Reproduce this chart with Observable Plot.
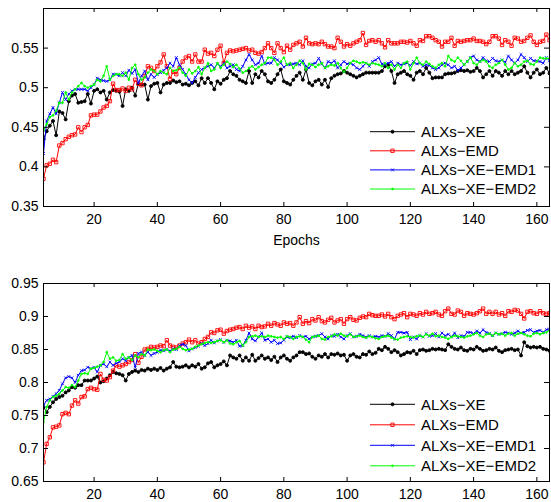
<!DOCTYPE html>
<html><head><meta charset="utf-8">
<script src="https://cdn.jsdelivr.net/npm/d3@7"></script>
<script src="https://cdn.jsdelivr.net/npm/@observablehq/plot@0.6"></script>
<style>
body{margin:0;background:#fff}
#chart svg{display:block}
</style>
</head><body><div id="chart"></div>
<script>
const startEpoch = 4;
const xDomain = [4, 164];
const xTicks = [20, 40, 60, 80, 100, 120, 140, 160];
const seriesNames = ["ALXs\u2212XE", "ALXs\u2212EMD", "ALXs\u2212XE\u2212EMD1", "ALXs\u2212XE\u2212EMD2"];
const seriesColors = ["#000000", "#ff0000", "#0000ff", "#00ff00"];
const topYDomain = [0.35, 0.6];
const topYTicks = [0.35, 0.4, 0.45, 0.5, 0.55];
const bottomYDomain = [0.65, 0.95];
const bottomYTicks = [0.65, 0.7, 0.75, 0.8, 0.85, 0.9, 0.95];

// top panel, epochs 4..164
const topXE = [
0.435,0.445,0.452,0.458,0.440,0.470,0.468,0.460,0.483,0.490,
0.492,0.481,0.482,0.483,0.492,0.480,0.496,0.498,0.494,0.496,
0.485,0.494,0.497,0.496,0.495,0.477,0.498,0.496,0.500,0.490,
0.505,0.504,0.504,0.485,0.502,0.505,0.506,0.494,0.504,0.506,
0.506,0.509,0.507,0.508,0.504,0.505,0.503,0.506,0.508,0.503,
0.512,0.506,0.512,0.506,0.498,0.508,0.505,0.510,0.512,0.521,
0.517,0.515,0.510,0.508,0.506,0.521,0.506,0.517,0.513,0.521,
0.517,0.508,0.506,0.510,0.517,0.523,0.508,0.506,0.504,0.510,
0.515,0.519,0.510,0.523,0.506,0.503,0.508,0.510,0.504,0.510,
0.501,0.512,0.515,0.517,0.518,0.521,0.519,0.517,0.515,0.513,
0.515,0.517,0.519,0.519,0.519,0.519,0.519,0.521,0.527,0.529,
0.521,0.506,0.517,0.519,0.521,0.517,0.515,0.510,0.519,0.521,
0.517,0.525,0.519,0.512,0.513,0.513,0.513,0.517,0.518,0.518,
0.519,0.521,0.522,0.521,0.522,0.520,0.521,0.525,0.521,0.513,
0.517,0.521,0.515,0.521,0.519,0.515,0.521,0.517,0.521,0.517,
0.519,0.521,0.527,0.519,0.513,0.519,0.523,0.517,0.519,0.525,0.518];
const topEMD = [
0.385,0.402,0.404,0.409,0.406,0.427,0.430,0.435,0.438,0.440,
0.441,0.450,0.444,0.450,0.453,0.465,0.466,0.466,0.470,0.475,
0.477,0.483,0.505,0.497,0.497,0.499,0.496,0.500,0.498,0.510,
0.505,0.503,0.515,0.527,0.525,0.521,0.527,0.532,0.542,0.527,
0.511,0.520,0.517,0.525,0.533,0.538,0.540,0.533,0.542,0.533,
0.533,0.548,0.543,0.544,0.540,0.548,0.553,0.531,0.544,0.547,
0.546,0.547,0.548,0.549,0.550,0.547,0.548,0.544,0.543,0.545,
0.550,0.556,0.550,0.544,0.556,0.550,0.545,0.553,0.548,0.554,
0.556,0.558,0.552,0.563,0.556,0.555,0.556,0.555,0.558,0.555,
0.552,0.552,0.550,0.563,0.558,0.552,0.555,0.553,0.556,0.558,
0.560,0.569,0.554,0.559,0.560,0.558,0.560,0.556,0.551,0.560,
0.556,0.556,0.556,0.558,0.558,0.557,0.559,0.556,0.553,0.560,
0.559,0.565,0.565,0.563,0.560,0.558,0.552,0.558,0.558,0.563,
0.553,0.559,0.558,0.559,0.560,0.560,0.562,0.559,0.559,0.558,
0.555,0.558,0.565,0.565,0.562,0.554,0.560,0.558,0.553,0.563,
0.562,0.558,0.559,0.563,0.566,0.558,0.554,0.558,0.559,0.567,0.560];
const topEMD1 = [
0.417,0.458,0.467,0.475,0.467,0.481,0.494,0.485,0.492,0.496,
0.498,0.498,0.498,0.498,0.496,0.500,0.504,0.512,0.510,0.509,
0.508,0.510,0.517,0.517,0.515,0.519,0.515,0.522,0.518,0.523,
0.506,0.515,0.521,0.510,0.517,0.513,0.517,0.519,0.522,0.525,
0.531,0.527,0.538,0.529,0.523,0.517,0.510,0.506,0.513,0.519,
0.523,0.525,0.527,0.529,0.525,0.530,0.527,0.531,0.525,0.527,
0.529,0.523,0.521,0.527,0.535,0.542,0.535,0.529,0.531,0.540,
0.530,0.531,0.531,0.538,0.535,0.531,0.526,0.529,0.529,0.530,
0.531,0.529,0.534,0.527,0.525,0.530,0.531,0.537,0.530,0.525,
0.533,0.531,0.534,0.525,0.529,0.533,0.530,0.531,0.529,0.525,
0.523,0.527,0.531,0.527,0.533,0.535,0.538,0.530,0.529,0.531,
0.533,0.527,0.531,0.529,0.530,0.531,0.528,0.533,0.530,0.531,
0.527,0.529,0.528,0.525,0.523,0.525,0.529,0.531,0.529,0.525,
0.527,0.522,0.525,0.529,0.533,0.538,0.540,0.535,0.533,0.538,
0.534,0.533,0.537,0.534,0.533,0.535,0.532,0.540,0.535,0.531,
0.535,0.542,0.538,0.533,0.537,0.534,0.534,0.533,0.531,0.538,0.534];
const topEMD2 = [
0.446,0.454,0.463,0.465,0.471,0.481,0.481,0.494,0.485,0.494,
0.498,0.502,0.506,0.502,0.500,0.502,0.504,0.510,0.508,0.515,
0.527,0.510,0.515,0.517,0.517,0.515,0.519,0.510,0.525,0.529,
0.517,0.510,0.513,0.519,0.523,0.521,0.517,0.521,0.519,0.517,
0.525,0.521,0.522,0.525,0.519,0.515,0.523,0.518,0.521,0.526,
0.517,0.525,0.531,0.521,0.523,0.531,0.525,0.529,0.533,0.530,
0.526,0.529,0.524,0.519,0.521,0.525,0.527,0.523,0.526,0.529,
0.531,0.538,0.538,0.535,0.529,0.533,0.538,0.529,0.531,0.525,
0.529,0.534,0.531,0.523,0.530,0.529,0.526,0.529,0.531,0.525,
0.527,0.529,0.528,0.531,0.525,0.520,0.525,0.531,0.534,0.533,
0.531,0.532,0.531,0.529,0.531,0.530,0.529,0.527,0.531,0.525,
0.529,0.523,0.529,0.525,0.531,0.533,0.523,0.531,0.538,0.531,
0.529,0.533,0.530,0.527,0.525,0.529,0.531,0.527,0.540,0.535,
0.533,0.538,0.534,0.529,0.533,0.538,0.531,0.529,0.533,0.535,
0.533,0.527,0.525,0.529,0.531,0.535,0.529,0.523,0.525,0.531,
0.527,0.529,0.533,0.534,0.530,0.529,0.533,0.538,0.537,0.537,0.537];

// bottom panel, epochs 4..164
const bottomXE = [
0.763,0.755,0.763,0.770,0.775,0.778,0.780,0.785,0.788,0.793,
0.792,0.796,0.796,0.803,0.803,0.803,0.806,0.809,0.800,0.802,
0.806,0.811,0.816,0.814,0.813,0.811,0.803,0.813,0.816,0.818,
0.816,0.819,0.818,0.821,0.819,0.821,0.819,0.822,0.818,0.821,
0.823,0.831,0.824,0.823,0.824,0.826,0.823,0.826,0.824,0.828,
0.821,0.823,0.829,0.831,0.823,0.826,0.828,0.832,0.826,0.841,
0.838,0.836,0.841,0.833,0.838,0.833,0.842,0.833,0.837,0.841,
0.836,0.838,0.834,0.839,0.831,0.838,0.841,0.836,0.833,0.838,
0.841,0.846,0.846,0.843,0.844,0.839,0.836,0.841,0.839,0.843,
0.838,0.843,0.842,0.844,0.841,0.842,0.833,0.841,0.843,0.839,
0.838,0.843,0.842,0.847,0.843,0.845,0.851,0.849,0.854,0.851,
0.846,0.849,0.846,0.841,0.843,0.846,0.845,0.848,0.843,0.849,
0.850,0.848,0.849,0.851,0.850,0.851,0.850,0.849,0.858,0.854,
0.851,0.850,0.853,0.849,0.848,0.851,0.850,0.854,0.851,0.848,
0.849,0.851,0.850,0.853,0.848,0.846,0.849,0.850,0.851,0.849,
0.850,0.841,0.861,0.855,0.853,0.854,0.853,0.854,0.851,0.850,0.848];
const bottomEMD = [
0.679,0.707,0.717,0.732,0.733,0.735,0.752,0.754,0.752,0.765,
0.773,0.768,0.778,0.779,0.790,0.792,0.790,0.789,0.813,0.804,
0.803,0.808,0.818,0.826,0.824,0.826,0.828,0.831,0.834,0.843,
0.830,0.839,0.850,0.851,0.854,0.853,0.854,0.856,0.855,0.864,
0.856,0.854,0.853,0.856,0.859,0.861,0.865,0.861,0.864,0.859,
0.861,0.866,0.869,0.876,0.875,0.879,0.880,0.874,0.878,0.880,
0.881,0.883,0.884,0.881,0.886,0.883,0.885,0.881,0.886,0.884,
0.885,0.889,0.886,0.890,0.888,0.886,0.891,0.889,0.890,0.886,
0.891,0.899,0.889,0.893,0.890,0.896,0.894,0.899,0.893,0.891,
0.895,0.898,0.891,0.894,0.896,0.889,0.896,0.899,0.895,0.894,
0.898,0.900,0.899,0.904,0.902,0.901,0.901,0.903,0.900,0.904,
0.899,0.896,0.901,0.903,0.905,0.899,0.904,0.903,0.901,0.905,
0.903,0.907,0.904,0.905,0.907,0.903,0.901,0.908,0.912,0.904,
0.903,0.909,0.907,0.901,0.905,0.904,0.903,0.905,0.908,0.912,
0.904,0.907,0.904,0.907,0.903,0.905,0.901,0.908,0.907,0.910,
0.909,0.904,0.897,0.907,0.908,0.905,0.904,0.908,0.905,0.904,0.905];
const bottomEMD1 = [
0.765,0.773,0.775,0.779,0.783,0.788,0.798,0.807,0.809,0.807,
0.800,0.811,0.818,0.819,0.823,0.821,0.823,0.816,0.826,0.828,
0.824,0.831,0.826,0.829,0.831,0.836,0.833,0.838,0.841,0.823,
0.844,0.846,0.841,0.846,0.841,0.844,0.846,0.849,0.848,0.850,
0.848,0.851,0.850,0.856,0.858,0.856,0.848,0.851,0.853,0.855,
0.859,0.856,0.859,0.864,0.860,0.863,0.865,0.861,0.864,0.863,
0.861,0.864,0.855,0.856,0.864,0.875,0.866,0.863,0.869,0.875,
0.864,0.866,0.861,0.864,0.859,0.860,0.864,0.869,0.868,0.870,
0.868,0.871,0.869,0.870,0.866,0.869,0.870,0.871,0.874,0.869,
0.866,0.871,0.870,0.873,0.869,0.866,0.871,0.874,0.869,0.870,
0.873,0.871,0.869,0.871,0.869,0.870,0.869,0.871,0.870,0.874,
0.871,0.866,0.876,0.876,0.875,0.876,0.865,0.869,0.866,0.871,
0.869,0.874,0.870,0.871,0.874,0.869,0.875,0.871,0.873,0.869,
0.875,0.868,0.871,0.870,0.876,0.876,0.874,0.878,0.875,0.880,
0.876,0.874,0.871,0.875,0.873,0.874,0.876,0.875,0.873,0.875,
0.878,0.875,0.876,0.879,0.880,0.876,0.878,0.879,0.876,0.880,0.881];
const bottomEMD2 = [
0.740,0.763,0.773,0.778,0.780,0.783,0.788,0.793,0.792,0.796,
0.793,0.803,0.813,0.814,0.813,0.821,0.822,0.824,0.826,0.831,
0.846,0.836,0.838,0.833,0.834,0.843,0.836,0.838,0.834,0.841,
0.838,0.843,0.841,0.850,0.849,0.850,0.848,0.846,0.849,0.850,
0.846,0.850,0.851,0.854,0.851,0.849,0.850,0.851,0.854,0.856,
0.858,0.860,0.861,0.860,0.861,0.863,0.864,0.861,0.864,0.859,
0.858,0.861,0.863,0.856,0.861,0.869,0.870,0.871,0.869,0.870,
0.869,0.871,0.870,0.869,0.868,0.869,0.866,0.870,0.869,0.866,
0.869,0.870,0.869,0.865,0.861,0.869,0.870,0.871,0.866,0.865,
0.869,0.870,0.873,0.871,0.874,0.871,0.870,0.873,0.869,0.870,
0.871,0.869,0.868,0.870,0.869,0.867,0.866,0.869,0.870,0.871,
0.868,0.866,0.865,0.868,0.869,0.870,0.869,0.868,0.870,0.871,
0.869,0.873,0.871,0.874,0.870,0.871,0.869,0.868,0.866,0.869,
0.871,0.870,0.869,0.868,0.870,0.871,0.873,0.875,0.871,0.869,
0.873,0.874,0.871,0.875,0.873,0.874,0.871,0.874,0.875,0.871,
0.874,0.875,0.873,0.871,0.870,0.874,0.875,0.873,0.875,0.876,0.879];

const FONT = "'Liberation Sans', Arial, Helvetica, sans-serif";
const fmt = d => String(+d.toFixed(2));

// marker styles per series (legend order)
const markerStyles = [
  {symbol: "circle", r: 1.5, fill: true},
  {symbol: "square", r: 1.9, fill: false},
  {symbol: "times", r: 1.4, fill: false},
  {symbol: "circle", r: 0.9, fill: true}
];

function toRows(arr, name) {
  return arr.map((v, i) => ({epoch: startEpoch + i, value: v, series: name}));
}

function makePanel({series, yDomain, yTicks, height, marginTop, marginBottom, xLabel, legendTop, legendStep}) {
  const width = 551, marginLeft = 43, marginRight = 2;
  const innerW = width - marginLeft - marginRight;
  const innerH = height - marginTop - marginBottom;
  const marks = [];
  series.forEach((arr, i) => {
    const rows = toRows(arr, seriesNames[i]);
    const st = markerStyles[i];
    marks.push(Plot.line(rows, {x: "epoch", y: "value", stroke: seriesColors[i], strokeWidth: 1, clip: true}));
    marks.push(Plot.dot(rows, {x: "epoch", y: "value", symbol: st.symbol, r: st.r,
      stroke: seriesColors[i], fill: st.fill ? seriesColors[i] : "none", strokeWidth: 0.9, clip: true}));
  });
  marks.push(Plot.frame({stroke: "black", strokeWidth: 1}));
  marks.push(Plot.ruleX(xTicks, {x: d => d, insetTop: innerH - 4, stroke: "black"}));
  marks.push(Plot.ruleX(xTicks, {x: d => d, insetBottom: innerH - 4, stroke: "black"}));
  marks.push(Plot.ruleY(yTicks, {y: d => d, insetRight: innerW - 5, stroke: "black"}));
  marks.push(Plot.ruleY(yTicks, {y: d => d, insetLeft: innerW - 5, stroke: "black"}));
  marks.push(Plot.axisY(yTicks, {tickSize: 0, tickPadding: 5, tickFormat: fmt, fontSize: 14, label: null}));
  marks.push(Plot.axisX(xTicks, {tickSize: 0, tickPadding: 8, fontSize: 14,
    label: xLabel, labelAnchor: "center", labelArrow: "none", labelOffset: 38}));
  const svg = Plot.plot({
    width, height, marginLeft, marginRight, marginTop, marginBottom,
    style: {fontFamily: FONT, fontSize: "14px", background: "white", color: "black"},
    x: {domain: xDomain},
    y: {domain: yDomain},
    marks
  });
  // legend
  const g = d3.select(svg).append("g").attr("font-family", FONT).attr("font-size", 15)
    .attr("text-anchor", "start");
  seriesNames.forEach((name, i) => {
    const y = legendTop + i * legendStep;
    g.append("line").attr("x1", 370).attr("x2", 415).attr("y1", y).attr("y2", y)
      .attr("stroke", seriesColors[i]).attr("stroke-width", 1);
    const st = markerStyles[i];
    const sym = {circle: d3.symbolCircle, square: d3.symbolSquare, times: d3.symbolTimes}[st.symbol];
    g.append("path").attr("d", d3.symbol(sym, Math.PI * st.r * st.r)())
      .attr("transform", `translate(392.5,${y})`)
      .attr("fill", st.fill ? seriesColors[i] : "none").attr("stroke", seriesColors[i]).attr("stroke-width", 0.9);
    g.append("text").attr("x", 421).attr("y", y).attr("dy", "0.35em")
      .attr("text-anchor", "start").attr("fill", "black").text(name);
  });
  return svg;
}

const chart = document.getElementById("chart");
chart.appendChild(makePanel({
  series: [topXE, topEMD, topEMD1, topEMD2], yDomain: topYDomain, yTicks: topYTicks,
  height: 250, marginTop: 8, marginBottom: 44, xLabel: "Epochs", legendTop: 131.7, legendStep: 19.1
}));
chart.appendChild(makePanel({
  series: [bottomXE, bottomEMD, bottomEMD1, bottomEMD2], yDomain: bottomYDomain, yTicks: bottomYTicks,
  height: 252, marginTop: 33, marginBottom: 21, xLabel: null, legendTop: 154.3, legendStep: 20.5
}));
</script>
</body></html>
